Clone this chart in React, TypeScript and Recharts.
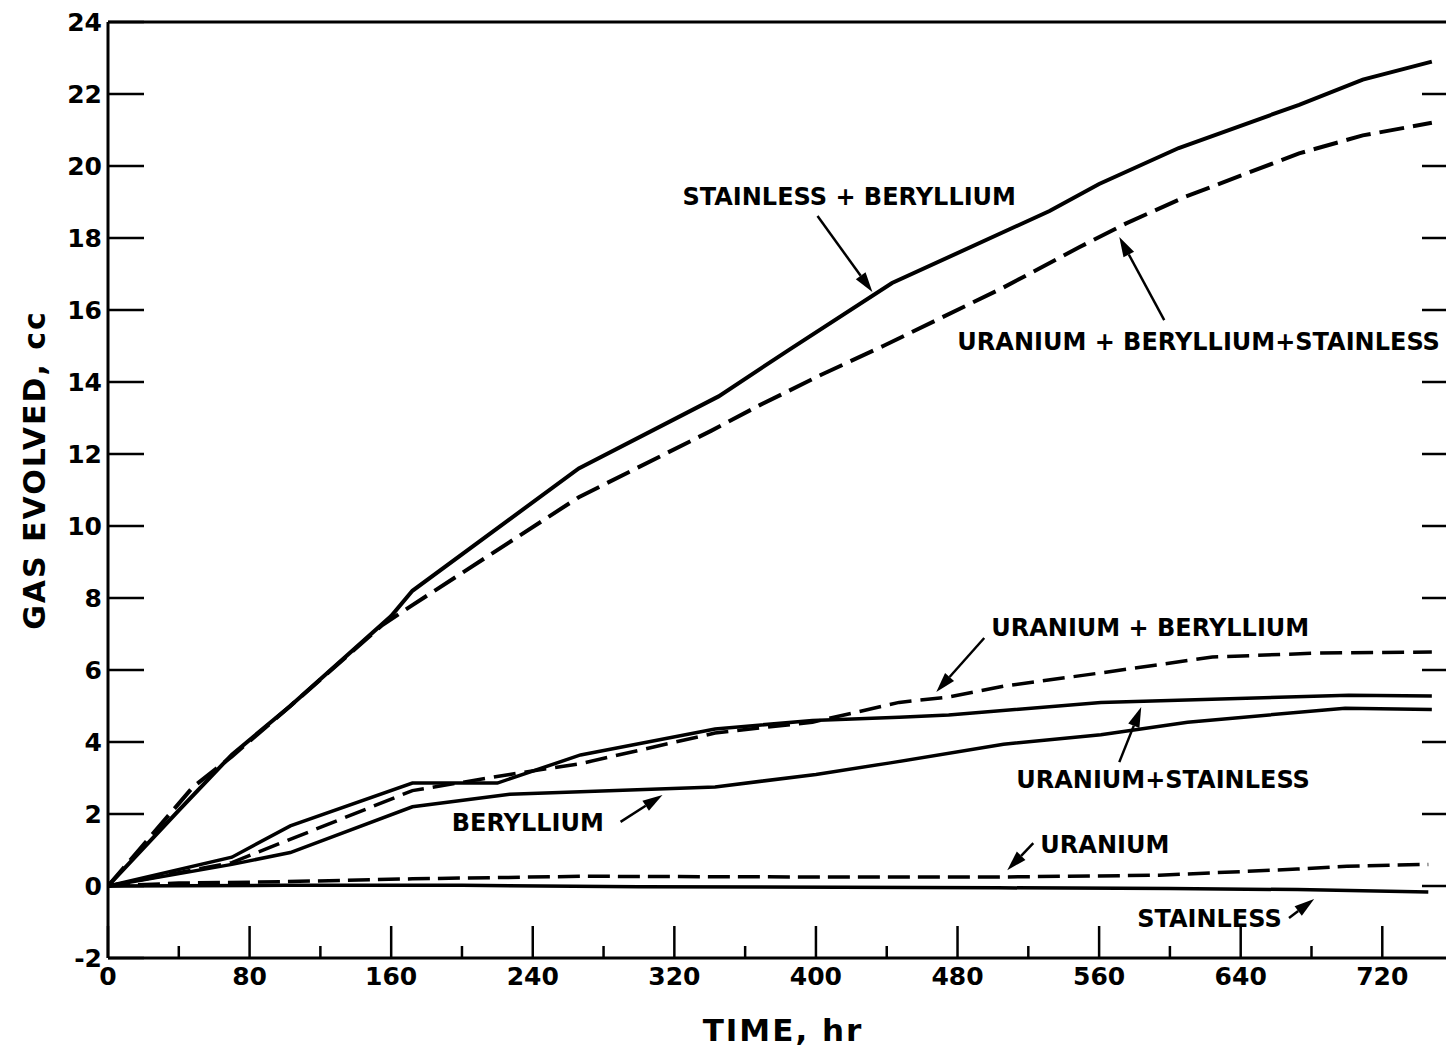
import { LineChart, Line, XAxis, YAxis, ReferenceLine, ReferenceDot } from "recharts";

// hours / gas evolved (cc)
const ssBeHours = [0, 40, 70, 103, 160, 172, 266, 345, 385, 443, 532, 560, 605, 673, 709, 748];
const ssBeGas = [0, 2.1, 3.65, 5.0, 7.5, 8.2, 11.6, 13.6, 14.9, 16.75, 18.75, 19.5, 20.5, 21.7, 22.4, 22.9];

const uBeSsHours = [0, 48, 70, 103, 155, 172, 266, 341, 368, 403, 438, 505, 549, 575, 609, 673, 709, 748];
const uBeSsGas = [0, 2.75, 3.6, 5.0, 7.25, 7.8, 10.8, 12.65, 13.35, 14.2, 15.0, 16.6, 17.75, 18.4, 19.15, 20.35, 20.85, 21.2];

const uSsHours = [0, 70, 103, 172, 220, 267, 343, 398, 447, 475, 561, 701, 748];
const uSsGas = [0, 0.8, 1.67, 2.86, 2.86, 3.64, 4.36, 4.6, 4.69, 4.75, 5.1, 5.3, 5.28];

const beHours = [0, 70, 103, 172, 227, 343, 400, 442, 506, 561, 610, 699, 748];
const beGas = [0, 0.6, 0.93, 2.2, 2.55, 2.75, 3.1, 3.42, 3.94, 4.2, 4.55, 4.94, 4.9];

const uBeHours = [0, 70, 172, 227, 267, 343, 398, 447, 475, 506, 561, 624, 683, 748];
const uBeGas = [0, 0.65, 2.65, 3.1, 3.4, 4.25, 4.55, 5.1, 5.25, 5.55, 5.92, 6.36, 6.47, 6.5];

const uHours = [0, 40, 100, 172, 270, 400, 503, 594, 640, 672, 700, 746];
const uGas = [0, 0.08, 0.12, 0.2, 0.27, 0.25, 0.25, 0.3, 0.4, 0.47, 0.55, 0.6];

const ssHours = [0, 100, 200, 300, 503, 600, 672, 746];
const ssGas = [0, 0.02, 0.02, -0.02, -0.05, -0.07, -0.1, -0.17];

const xTicks = [0, 40, 80, 120, 160, 200, 240, 280, 320, 360, 400, 440, 480, 520, 560, 600, 640, 680, 720];
const yTicks = [-2, 0, 2, 4, 6, 8, 10, 12, 14, 16, 18, 20, 22, 24];

// callout text (anchor at left edge) and arrows, in data units
const labels = [
  { text: "STAINLESS + BERYLLIUM", t: 324.6, v: 19.14 },
  { text: "URANIUM + BERYLLIUM+STAINLESS", t: 479.9, v: 15.11 },
  { text: "URANIUM + BERYLLIUM", t: 499.1, v: 7.17 },
  { text: "URANIUM+STAINLESS", t: 513.2, v: 2.94 },
  { text: "BERYLLIUM", t: 194.2, v: 1.75 },
  { text: "URANIUM", t: 526.8, v: 1.14 },
  { text: "STAINLESS", t: 581.5, v: -0.92 },
];
const arrows = [
  [400.9, 18.61, 431.9, 16.5],
  [596.8, 15.72, 571.4, 18.03],
  [495.1, 6.89, 468.0, 5.39],
  [571.4, 3.44, 583.8, 4.97],
  [289.6, 1.78, 313.3, 2.53],
  [522.8, 1.19, 508.1, 0.44],
  [667.3, -0.89, 681.5, -0.36],
];

const zip = (h: number[], g: number[]) => h.map((t, i) => ({ t, v: g[i] }));

const FONT = "'DejaVu Sans', sans-serif";

function BottomTick(p: any) {
  const { x, y, payload } = p;
  const major = payload.value % 80 === 0;
  return (
    <g>
      <line x1={x} y1={y} x2={x} y2={y - (major ? 32 : 12)} stroke="#000" strokeWidth={2.5} />
      {major && (
        <text x={x} y={y + 18} textAnchor="middle" dominantBaseline="central"
          fontFamily={FONT} fontWeight="bold" fontSize={25} fill="#000">
          {payload.value}
        </text>
      )}
    </g>
  );
}

function TopTick(p: any) {
  const { x, y, payload } = p;
  const major = payload.value % 80 === 0;
  return <line x1={x} y1={y} x2={x} y2={y + (major ? 36 : 15)} stroke="#000" strokeWidth={2.5} />;
}

function LeftTick(p: any) {
  const { x, y, payload } = p;
  return (
    <g>
      <line x1={x} y1={y} x2={x + 36} y2={y} stroke="#000" strokeWidth={2.5} />
      <text x={x - 6} y={y} textAnchor="end" dominantBaseline="central"
        fontFamily={FONT} fontWeight="bold" fontSize={25} fill="#000">
        {payload.value}
      </text>
    </g>
  );
}

function RightTick(p: any) {
  const { x, y } = p;
  return <line x1={x} y1={y} x2={x - 24} y2={y} stroke="#000" strokeWidth={2.5} />;
}

function Arrow(p: any) {
  const { x1, y1, x2, y2 } = p;
  const a = Math.atan2(y2 - y1, x2 - x1);
  const len = 20;
  const half = 6;
  const bx = x2 - len * Math.cos(a);
  const by = y2 - len * Math.sin(a);
  const nx = -Math.sin(a) * half;
  const ny = Math.cos(a) * half;
  return (
    <g>
      <line x1={x1} y1={y1} x2={bx} y2={by} stroke="#000" strokeWidth={2.5} />
      <polygon points={`${x2},${y2} ${bx + nx},${by + ny} ${bx - nx},${by - ny}`} fill="#000" />
    </g>
  );
}

const textShape = (text: string) => (p: any) => (
  <text x={p.cx} y={p.cy} dominantBaseline="central" fontFamily={FONT}
    fontWeight="bold" fontSize={24} fill="#000">
    {text}
  </text>
);

const series = [
  { key: "ssBe", data: zip(ssBeHours, ssBeGas), dash: undefined, w: 4 },
  { key: "uBeSs", data: zip(uBeSsHours, uBeSsGas), dash: "25 9", w: 4 },
  { key: "uSs", data: zip(uSsHours, uSsGas), dash: undefined, w: 3.5 },
  { key: "be", data: zip(beHours, beGas), dash: undefined, w: 3.5 },
  { key: "uBe", data: zip(uBeHours, uBeGas), dash: "22 9", w: 3.5 },
  { key: "u", data: zip(uHours, uGas), dash: "22 8", w: 3.5 },
  { key: "ss", data: zip(ssHours, ssGas), dash: undefined, w: 3.5 },
];

export default function App() {
  return (
    <div style={{ position: "absolute", left: 0, top: 0, width: 1447, height: 1050, background: "#fff" }}>
      <LineChart width={1447} height={1050} margin={{ top: 12, right: 0, bottom: 32, left: 8 }}>
        <XAxis xAxisId="b" dataKey="t" type="number" domain={[0, 756]} ticks={xTicks} interval={0}
          allowDataOverflow height={60} tickSize={0} tickMargin={0} tickLine={false}
          axisLine={{ stroke: "#000", strokeWidth: 3 }} tick={<BottomTick />} />
        <XAxis xAxisId="top" orientation="top" type="number" domain={[0, 756]} ticks={xTicks.slice(1)}
          interval={0} allowDataOverflow height={10} tickSize={0} tickMargin={0} tickLine={false}
          axisLine={{ stroke: "#000", strokeWidth: 3 }} tick={<TopTick />} />
        <YAxis yAxisId="l" type="number" domain={[-2, 24]} ticks={yTicks} interval={0} allowDataOverflow
          width={100} tickSize={0} tickMargin={0} tickLine={false}
          axisLine={{ stroke: "#000", strokeWidth: 3 }} tick={<LeftTick />} />
        <YAxis yAxisId="r" orientation="right" type="number" domain={[-2, 24]} ticks={yTicks.slice(1, -1)}
          interval={0} allowDataOverflow width={1} tickSize={0} tickMargin={0} tickLine={false}
          axisLine={false} tick={<RightTick />} />
        {series.map((s) => (
          <Line key={s.key} xAxisId="b" yAxisId="l" data={s.data} dataKey="v" type="linear"
            stroke="#000" strokeWidth={s.w} strokeDasharray={s.dash} dot={false} activeDot={false}
            isAnimationActive={false} />
        ))}
        {arrows.map((a, i) => (
          <ReferenceLine key={"a" + i} xAxisId="b" yAxisId="l"
            segment={[{ x: a[0], y: a[1] }, { x: a[2], y: a[3] }]} shape={Arrow} />
        ))}
        {labels.map((l) => (
          <ReferenceDot key={l.text} xAxisId="b" yAxisId="l" x={l.t} y={l.v} r={1}
            shape={textShape(l.text)} />
        ))}
      </LineChart>
      <div style={{ position: "absolute", left: 783, top: 1030, transform: "translate(-50%, -50%)",
        fontFamily: FONT, fontWeight: "bold", fontSize: 31, letterSpacing: 2, whiteSpace: "nowrap" }}>
        TIME, hr
      </div>
      <div style={{ position: "absolute", left: 34, top: 470, transform: "translate(-50%, -50%) rotate(-90deg)",
        fontFamily: FONT, fontWeight: "bold", fontSize: 30, letterSpacing: 2, whiteSpace: "nowrap" }}>
        GAS EVOLVED, cc
      </div>
    </div>
  );
}
